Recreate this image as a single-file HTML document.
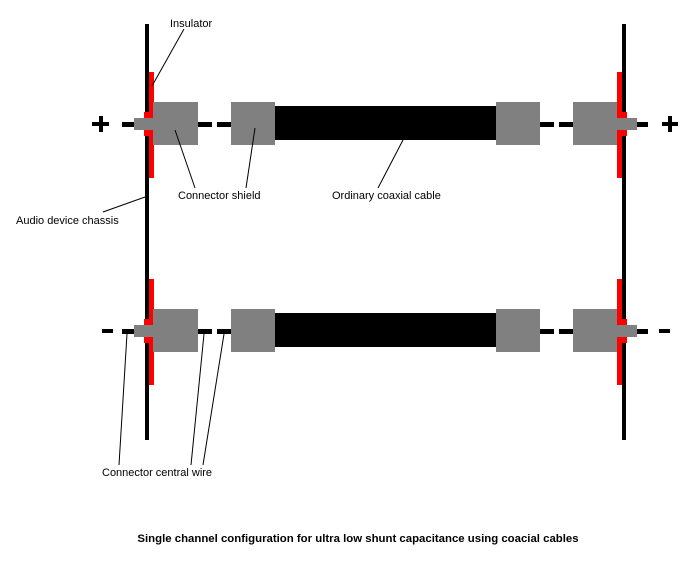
<!DOCTYPE html>
<html><head><style>
body{margin:0;background:#fff;}
svg text{font-family:"Liberation Sans",sans-serif;font-size:11px;fill:#000;}
</style></head><body>
<svg width="699" height="562" viewBox="0 0 699 562" xmlns="http://www.w3.org/2000/svg">
<rect x="145" y="24" width="4" height="416" fill="#000"/>
<rect x="622" y="24" width="4" height="416" fill="#000"/>
<g id="row">
<rect x="92" y="122" width="17" height="4" fill="#000"/>
<rect x="99" y="116" width="4" height="16" fill="#000"/>
<rect x="122" y="122" width="12" height="5" fill="#000"/>
<rect x="198" y="122" width="14" height="5" fill="#000"/>
<rect x="217" y="122" width="14" height="5" fill="#000"/>
<rect x="540" y="122" width="14" height="5" fill="#000"/>
<rect x="559" y="122" width="14" height="5" fill="#000"/>
<rect x="637" y="122" width="11" height="5" fill="#000"/>
<rect x="149" y="72" width="5" height="106" fill="#f00"/>
<rect x="144" y="112" width="10" height="24" fill="#f00"/>
<rect x="134" y="118" width="20" height="12" fill="#808080"/>
<rect x="153" y="102" width="45" height="43" fill="#808080"/>
<rect x="231" y="102" width="44" height="43" fill="#808080"/>
<rect x="275" y="106" width="221" height="34" fill="#000"/>
<rect x="496" y="102" width="44" height="43" fill="#808080"/>
<rect x="573" y="102" width="44" height="43" fill="#808080"/>
<rect x="617" y="72" width="5" height="106" fill="#f00"/>
<rect x="617" y="112" width="10" height="24" fill="#f00"/>
<rect x="617" y="118" width="20" height="12" fill="#808080"/>
</g>
<rect x="662" y="122" width="16" height="4" fill="#000"/>
<rect x="668" y="116" width="4" height="16" fill="#000"/>
<use href="#row" transform="translate(0,207)"/>
<rect x="90" y="320" width="20" height="20" fill="#fff"/>
<rect x="102" y="329" width="11" height="4" fill="#000"/>
<rect x="659" y="329" width="11" height="4" fill="#000"/>
<g stroke="#000" stroke-width="1" fill="none">
<line x1="184" y1="29" x2="152" y2="86"/>
<line x1="175" y1="130" x2="195" y2="188"/>
<line x1="255" y1="128" x2="246" y2="188"/>
<line x1="403" y1="140" x2="378" y2="188"/>
<line x1="145" y1="197" x2="103" y2="212"/>
<line x1="127" y1="334" x2="119" y2="465"/>
<line x1="204" y1="334" x2="191" y2="465"/>
<line x1="224" y1="334" x2="203" y2="465"/>
</g>
<text x="170" y="27">Insulator</text>
<text x="178" y="199">Connector shield</text>
<text x="332" y="199">Ordinary coaxial cable</text>
<text x="16" y="224">Audio device chassis</text>
<text x="102" y="476">Connector central wire</text>
<text x="358" y="542" text-anchor="middle" style="font-weight:bold;font-size:11.4px">Single channel configuration for ultra low shunt capacitance using coacial cables</text>
</svg>
</body></html>
